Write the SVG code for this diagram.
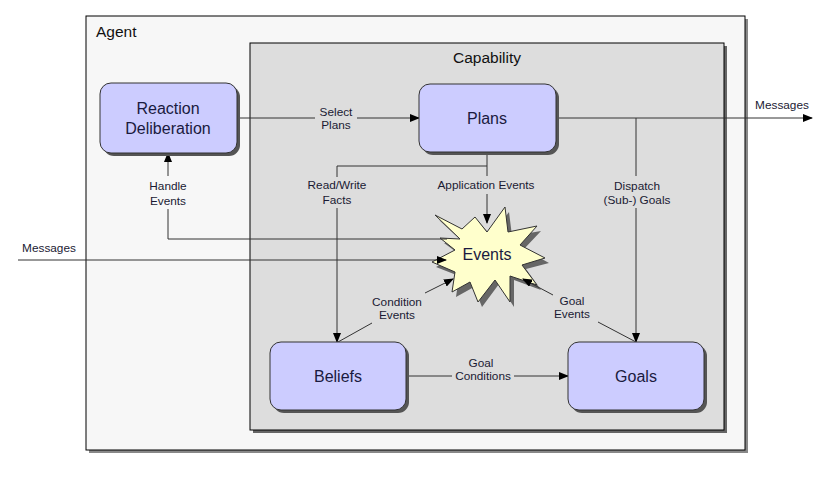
<svg xmlns="http://www.w3.org/2000/svg" width="831" height="477" viewBox="0 0 831 477">
<defs>
<marker id="arr" markerWidth="10" markerHeight="8" refX="9" refY="4" orient="auto" markerUnits="userSpaceOnUse">
<path d="M0,0 L10,4 L0,8 Z" fill="#000"/>
</marker>
<style>
.lbl{font-family:"Liberation Sans",Arial,sans-serif;font-size:11.8px;fill:#1a1a33;text-anchor:middle}
.nt{font-family:"Liberation Sans",Arial,sans-serif;font-size:16px;fill:#1a1a40;text-anchor:middle}
.ttl{font-family:"Liberation Sans",Arial,sans-serif;font-size:15.5px;fill:#111}
.node{fill:#ccccff;stroke:#333;stroke-width:1}
.sh{fill:#555}
.ln{fill:none;stroke:#333;stroke-width:1}
.la{fill:none;stroke:#333;stroke-width:1;marker-end:url(#arr)}
</style>
</defs>
<rect width="831" height="477" fill="#fff"/>
<g id="agent">
<rect x="89" y="19" width="659" height="434" fill="#888"/>
<rect x="86" y="16" width="659" height="434" fill="#f7f7f7" stroke="#000" stroke-width="1"/>
<text class="ttl" x="96" y="37">Agent</text>
</g>
<g id="capability">
<rect x="253" y="46" width="474" height="387" fill="#666"/>
<rect x="250" y="43" width="474" height="387" fill="#dddddd" stroke="#000" stroke-width="1"/>
<text class="ttl" x="487" y="63" text-anchor="middle">Capability</text>
</g>
<g id="events">
<polygon points="437,218 464,231 477,220 489,234 507,210 510,234 539,229 522,247 547,261 524,267 539,288 512,278 512,305 497,282 480,305 472,285 454,295 457,274 434,265 457,252 442,241 462,241" fill="#666" transform="translate(2,2)"/>
<polygon points="435,215 462,229 475,217 487,232 505,207 508,232 537,226 520,245 545,258 522,265 537,285 510,276 510,302 495,280 478,302 470,282 452,292 455,272 432,262 455,250 440,238 460,239" fill="#ffffcc" stroke="#333" stroke-width="1"/>
<text class="nt" x="487" y="260" font-size="16.5">Events</text>
</g>
<g id="connectors">
<path class="ln" d="M237,118 H315"/>
<path class="la" d="M357,118 H419"/>
<text class="lbl" x="336" y="116">Select</text>
<text class="lbl" x="336" y="129">Plans</text>
<path class="la" d="M556,118 H812"/>
<text class="lbl" x="782" y="109">Messages</text>
<path class="ln" d="M636,118 V176"/>
<path class="la" d="M636,208 V342"/>
<text class="lbl" x="637" y="190">Dispatch</text>
<text class="lbl" x="637" y="204">(Sub-) Goals</text>
<path class="ln" d="M487,152 V176"/>
<path class="la" d="M487,194 V223"/>
<text class="lbl" x="486" y="189">Application Events</text>
<path class="ln" d="M487,166 H337 V177"/>
<path class="la" d="M337,208 V342"/>
<text class="lbl" x="337" y="189">Read/Write</text>
<text class="lbl" x="337" y="204">Facts</text>
<path class="ln" d="M447,239 H168 V209"/>
<path class="la" d="M168,176 V153"/>
<text class="lbl" x="168" y="190">Handle</text>
<text class="lbl" x="168" y="205">Events</text>
<path class="la" d="M18,260 H446"/>
<text class="lbl" x="49" y="252">Messages</text>
<path class="ln" d="M338,342 L372,323"/>
<path class="la" d="M425,293 L453,279"/>
<text class="lbl" x="397" y="306">Condition</text>
<text class="lbl" x="397" y="319">Events</text>
<path class="ln" d="M636,342 L598,322"/>
<path class="la" d="M553,295 L523,279"/>
<text class="lbl" x="572" y="305">Goal</text>
<text class="lbl" x="572" y="318">Events</text>
<path class="ln" d="M406,376 H452"/>
<path class="la" d="M514,376 H568"/>
<text class="lbl" x="481" y="367">Goal</text>
<text class="lbl" x="483" y="380">Conditions</text>
</g>
<g id="reaction">
<rect class="sh" x="103" y="86" width="137" height="70" rx="11"/>
<rect class="node" x="100" y="83" width="137" height="70" rx="11"/>
<text class="nt" x="168" y="114">Reaction</text>
<text class="nt" x="168" y="134">Deliberation</text>
</g>
<g id="plans">
<rect class="sh" x="422" y="87" width="137" height="68" rx="11"/>
<rect class="node" x="419" y="84" width="137" height="68" rx="11"/>
<text class="nt" x="487" y="124">Plans</text>
</g>
<g id="beliefs">
<rect class="sh" x="273" y="345" width="136" height="68" rx="11"/>
<rect class="node" x="270" y="342" width="136" height="68" rx="11"/>
<text class="nt" x="338" y="382">Beliefs</text>
</g>
<g id="goals">
<rect class="sh" x="571" y="345" width="136" height="68" rx="11"/>
<rect class="node" x="568" y="342" width="136" height="68" rx="11"/>
<text class="nt" x="636" y="382">Goals</text>
</g>
</svg>
